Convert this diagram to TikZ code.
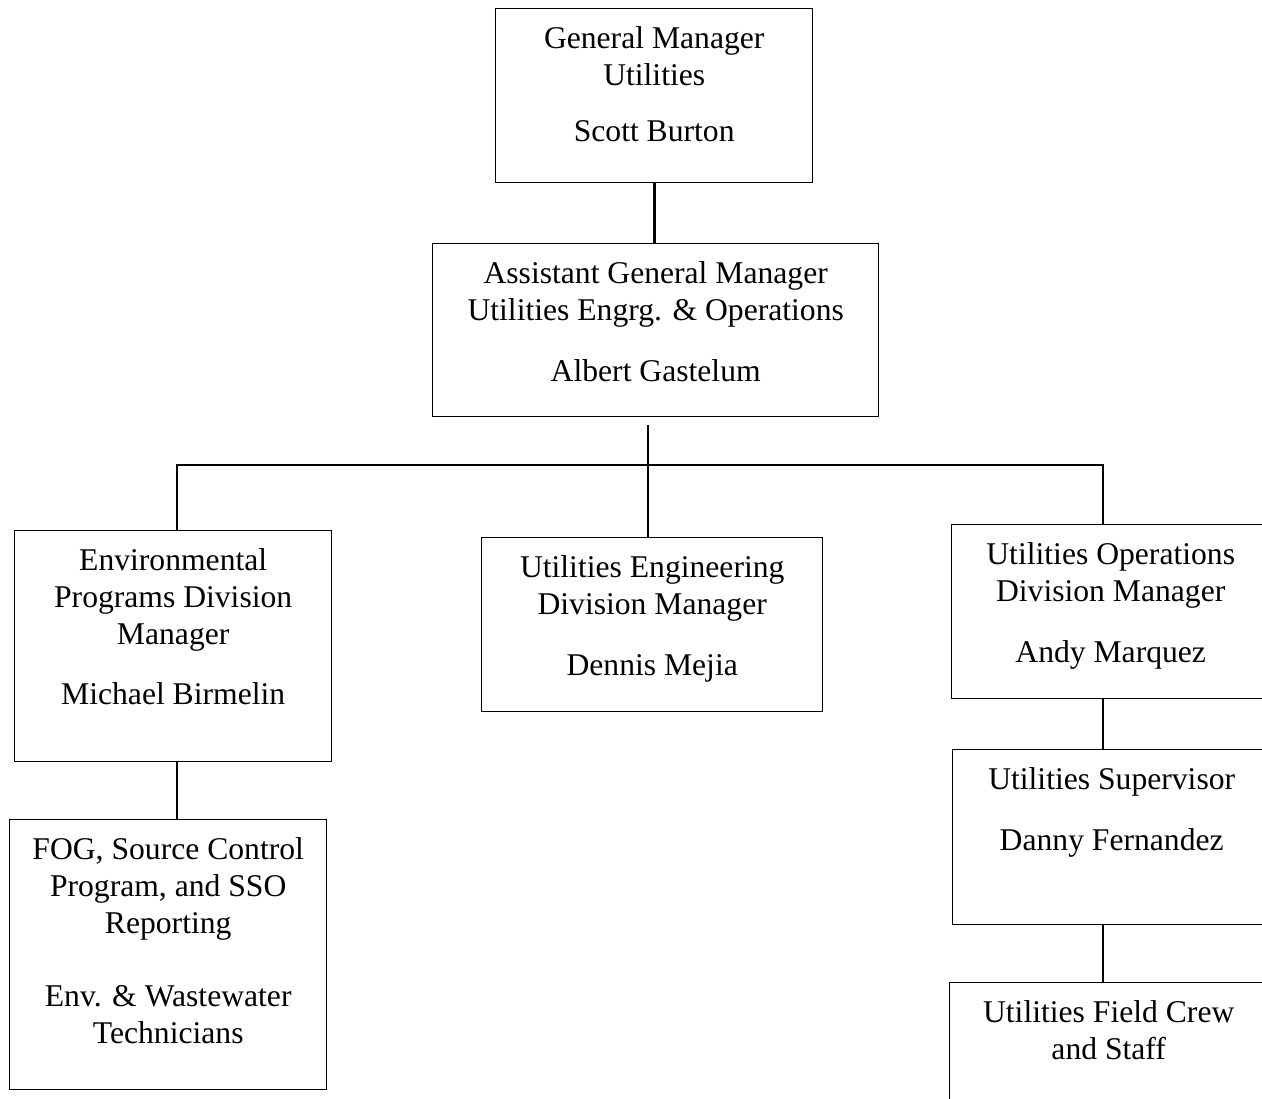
\documentclass[tikz,border=0pt]{standalone}
\usepackage{fontspec}
\setmainfont{Liberation Serif}
\usetikzlibrary{positioning}

\tikzset{
  orgbox/.style={draw, line width=0.8pt, anchor=north west, inner sep=0pt},
  orgtext/.style={align=center, inner sep=0pt, font=\fontsize{18}{21}\selectfont},
  link/.style={line width=1.6pt}
}

\begin{document}
\begin{tikzpicture}
  \useasboundingbox (0,0) rectangle (25.24,-21.98);
  \clip (0,0) rectangle (25.24,-21.98);

  % boxes
  \node[orgbox, minimum width=6.34cm, minimum height=3.48cm] (gm) at (9.90,-0.16) {};
  \node[orgbox, minimum width=8.92cm, minimum height=3.46cm] (agm) at (8.64,-4.86) {};
  \node[orgbox, minimum width=6.34cm, minimum height=4.62cm] (env) at (0.28,-10.60) {};
  \node[orgbox, minimum width=6.82cm, minimum height=3.48cm] (eng) at (9.62,-10.74) {};
  \node[orgbox, minimum width=6.36cm, minimum height=3.48cm] (ops) at (19.02,-10.48) {};
  \node[orgbox, minimum width=6.36cm, minimum height=3.50cm] (sup) at (19.04,-14.98) {};
  \node[orgbox, minimum width=6.34cm, minimum height=5.40cm] (fog) at (0.18,-16.38) {};
  \node[orgbox, minimum width=6.36cm, minimum height=3.48cm] (field) at (18.98,-19.64) {};

  % texts
  \node[orgtext, below=0.36cm of gm.north] (gmtext) {General Manager\\Utilities\\[11pt]Scott Burton};
  \node[orgtext, below=0.36cm of agm.north] (agmtext) {Assistant General Manager\\Utilities Engrg. \& Operations\\[13.6pt]Albert Gastelum};
  \node[orgtext, below=0.36cm of env.north] (envtext) {Environmental\\Programs Division\\Manager\\[13.6pt]Michael Birmelin};
  \node[orgtext, below=0.36cm of eng.north] (engtext) {Utilities Engineering\\Division Manager\\[13.6pt]Dennis Mejia};
  \node[orgtext, below=0.36cm of ops.north] (opstext) {Utilities Operations\\Division Manager\\[13.6pt]Andy Marquez};
  \node[orgtext, below=0.36cm of sup.north] (suptext) {Utilities Supervisor\\[14pt]Danny Fernandez};
  \node[orgtext, below=0.36cm of fog.north] (fogtext) {FOG, Source Control\\Program, and SSO\\Reporting\\[21pt]Env. \& Wastewater\\Technicians};
  \node[orgtext, below=0.36cm of field.north] (fieldtext) {Utilities Field Crew\\and Staff};

  % links
  \coordinate (split) at (12.96,-8.50);
  \coordinate (barL) at (3.54,-9.30);
  \coordinate (barR) at (22.06,-9.30);

  \draw[link] (gm.south) -- (gm.south |- agm.north);
  \draw[link] (split) -- (split |- eng.north);
  \draw[link] (barL |- env.north) -- (barL) -- (barR) -- (barR |- ops.north);
  \draw[link] (barL |- env.south) -- (barL |- fog.north);
  \draw[link] (barR |- ops.south) -- (barR |- sup.north);
  \draw[link] (barR |- sup.south) -- (barR |- field.north);
\end{tikzpicture}
\end{document}
